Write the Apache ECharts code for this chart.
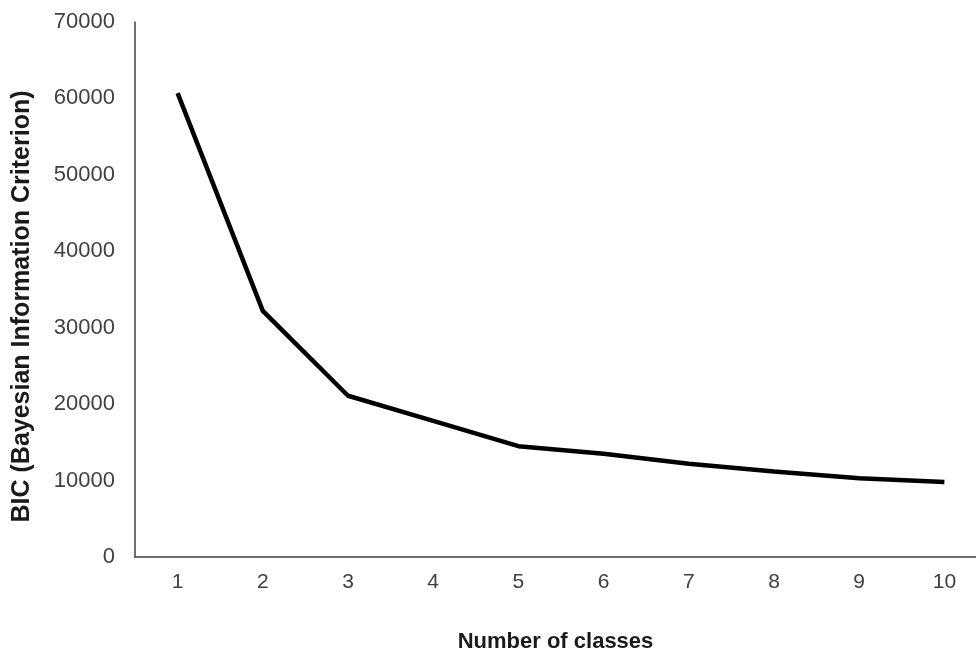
<!DOCTYPE html>
<html>
<head>
<meta charset="utf-8">
<script src="https://cdn.jsdelivr.net/npm/echarts@6/dist/echarts.min.js"></script>
<style>html,body{margin:0;padding:0;background:#fff;overflow:hidden;}#c{width:988px;height:658px;}</style>
</head>
<body>
<div id="c"></div>
<script>
const categories = ['1','2','3','4','5','6','7','8','9','10'];
const bicValues = [60700, 32200, 21100, 17800, 14500, 13500, 12200, 11200, 10300, 9800];
const yTicks = {min: 0, max: 70000, interval: 10000};

const chart = echarts.init(document.getElementById('c'), null, {renderer: 'canvas'});
chart.setOption({
  backgroundColor: '#ffffff',
  animation: false,
  grid: {left: 135, right: 1, top: 22, bottom: 96, containLabel: false},
  xAxis: {
    type: 'category',
    data: categories,
    boundaryGap: true,
    name: 'Number of classes',
    nameLocation: 'middle',
    nameGap: 74,
    nameTextStyle: {fontFamily: 'Liberation Sans', fontSize: 22, fontWeight: 'bold', color: '#1a1a1a', padding: [0, 11, 0, 0]},
    axisLine: {lineStyle: {color: '#404040', width: 1.5}},
    axisTick: {show: false},
    axisLabel: {fontFamily: 'Liberation Sans', fontSize: 21, color: '#404040', margin: 15},
    splitLine: {show: false}
  },
  yAxis: {
    type: 'value',
    min: yTicks.min, max: yTicks.max, interval: yTicks.interval,
    name: 'BIC (Bayesian Information Criterion)',
    nameLocation: 'middle',
    nameGap: 100,
    nameTextStyle: {fontFamily: 'Liberation Sans', fontSize: 25, fontWeight: 'bold', color: '#1a1a1a', padding: [0, 34, 0, 0]},
    axisLine: {show: true, lineStyle: {color: '#404040', width: 1.5}},
    axisTick: {show: false},
    axisLabel: {fontFamily: 'Liberation Sans', fontSize: 22, color: '#404040', margin: 20, formatter: function (v) { return String(v); }},
    splitLine: {show: false}
  },
  series: [{
    type: 'line',
    data: bicValues,
    symbol: 'none',
    lineStyle: {color: '#000000', width: 4.5},
    itemStyle: {color: '#000000'}
  }]
});
</script>
</body>
</html>
